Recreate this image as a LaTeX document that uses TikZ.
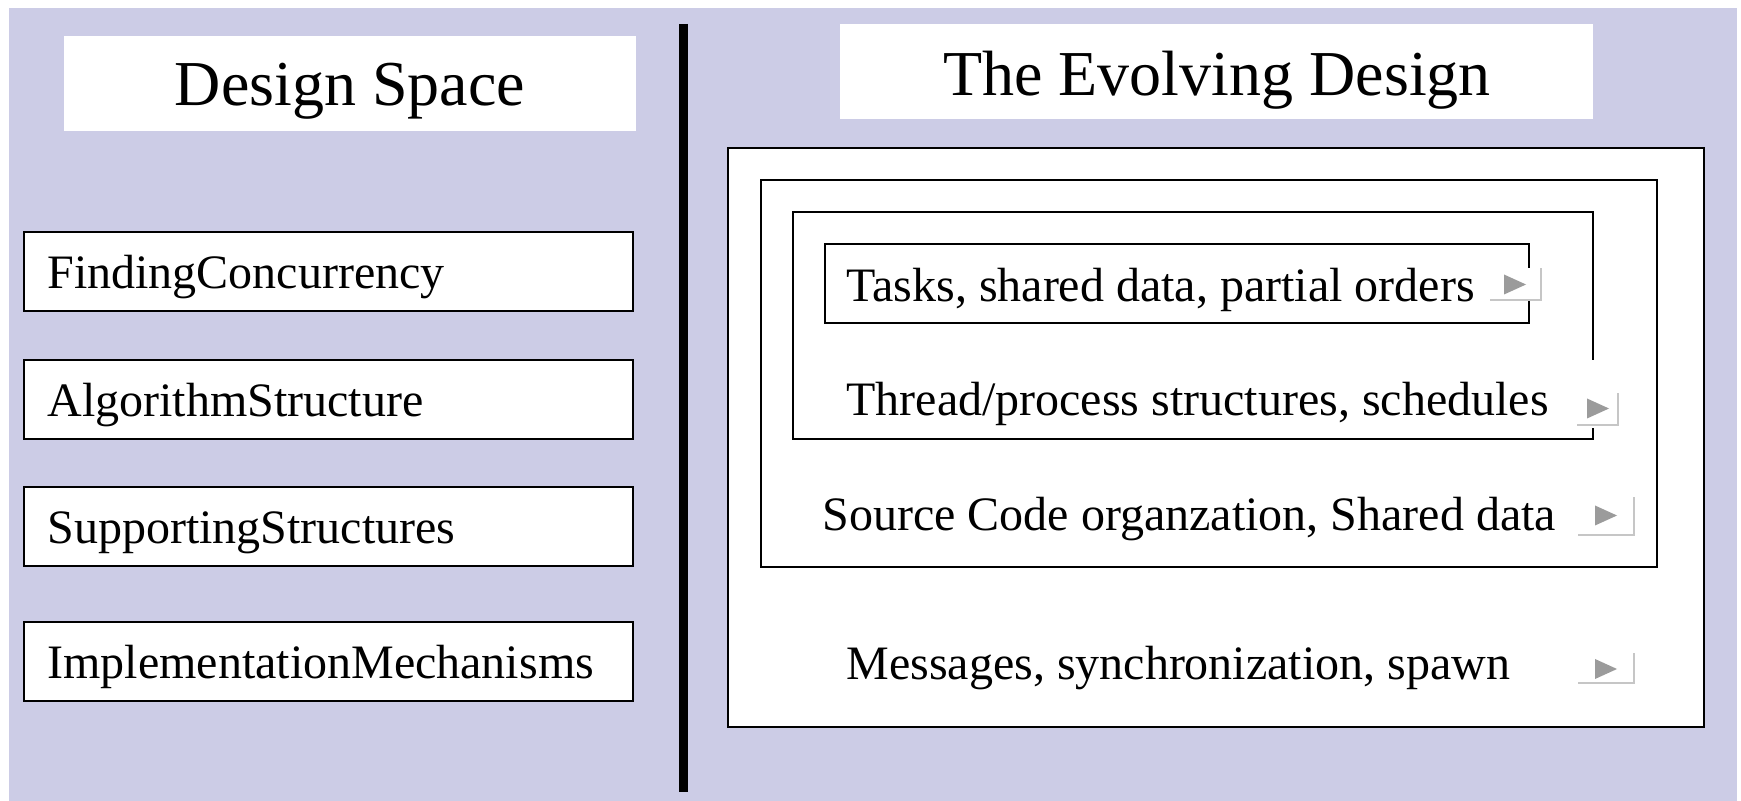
\documentclass[tikz,border=0pt]{standalone}
\usepackage{fontspec}
\setmainfont{Liberation Serif}
\usetikzlibrary{fit}

\definecolor{panelbg}{RGB}{204,204,230}
\definecolor{btnline}{RGB}{198,198,198}
\definecolor{btnarrow}{RGB}{155,155,155}

\begin{document}
\begin{tikzpicture}[x=0.5pt,y=-0.5pt,
    box/.style={draw=black, line width=1.2pt, fill=white, inner sep=0pt},
    titlebox/.style={fill=white, inner sep=0pt},
    title/.style={font=\fontsize{32}{38}\selectfont, anchor=base, inner sep=0pt},
    lbl/.style={font=\fontsize{24}{29}\selectfont, anchor=base west, inner sep=0pt}]

    \useasboundingbox (0,0) rectangle (1741,801);
    \fill[white] (0,0) rectangle (1741,801);

    % Pozadi
    \fill[panelbg] (9,8) rectangle (1737,801);

    % Delici cara
    \draw[line width=4.5pt] (683.5,24) -- (683.5,792);

    % Nadpisy
    \node[titlebox, fit={(64,36) (636,131)}] (dsbox) {};
    \node[title] (dstitle) at (350,106) {Design Space};

    \node[titlebox, fit={(840,24) (1593,119)}] (evbox) {};
    \node[title] (evtitle) at (1217,96) {The Evolving Design};

    % Levy sloupec
    \foreach \top/\bot/\name/\txt in {
        232/311/find/FindingConcurrency,
        360/439/algo/AlgorithmStructure,
        487/566/supp/SupportingStructures,
        622/701/impl/ImplementationMechanisms
    }{
        \node[box, fit={(24,\top) (633,\bot)}] (\name) {};
        \node[lbl] (\name-txt) at (47,{\bot-22}) {\txt};
    }

    % Vnorene ramecky
    \node[box, fit={(728,148) (1704,727)}] (outer) {};
    \node[box, fit={(761,180) (1657,567)}] (mid) {};
    \node[box, fit={(793,212) (1593,439)}] (inner) {};
    \node[box, fit={(825,244) (1529,323)}] (core) {};

    \node[lbl] (tasks) at (846,302) {Tasks, shared data, partial orders};
    \node[lbl] (threads) at (846,416) {Thread/process structures, schedules};
    \node[lbl] (source) at (822,531) {Source Code organzation, Shared data};
    \node[lbl] (msgs) at (846,680) {Messages, synchronization, spawn};

    % Mezera v okraji
    \fill[white] (1585,360) rectangle (1600,428);

    % Tlacitka
    \foreach \r/\b/\w/\h/\tx/\ty in {
        1541/300/51/32/1515/284.5,
        1618/425/41/32/1598/408.5,
        1634/535/56/38/1606/515.5,
        1634/683/56/30/1606/669
    }{
        \fill[white] ({\r-\w},{\b-\h}) rectangle (\r,\b);
        \draw[btnline, line width=1pt]
            ({\r-\w},\b) -- (\r,\b) -- (\r,{\b-\h});
        \fill[btnarrow]
            ({\tx-11},{\ty-10}) -- ({\tx+11},\ty) -- ({\tx-11},{\ty+10}) -- cycle;
    }

\end{tikzpicture}
\end{document}
